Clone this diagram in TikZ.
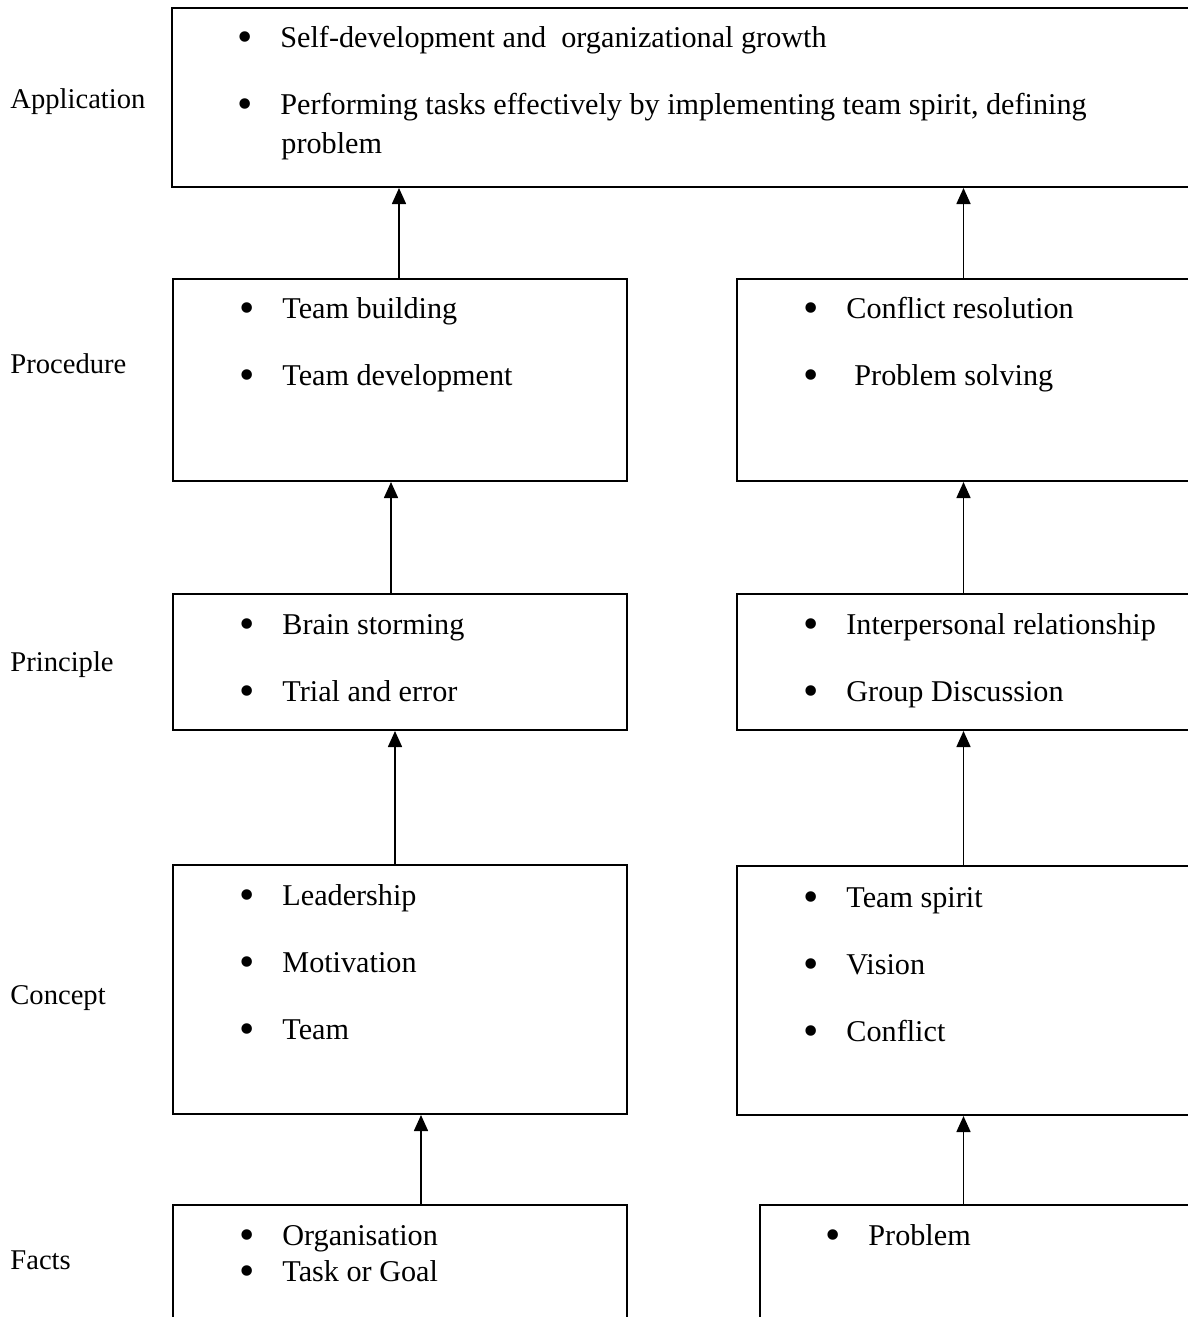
\documentclass[tikz,border=0pt]{standalone}
\usepackage{fontspec}
\setmainfont{Liberation Serif}
\usetikzlibrary{arrows.meta}
\usetikzlibrary{fit}

\newcommand{\bul}[1]{\makebox[21.5pt][l]{\smash{\raisebox{-2.3pt}{\scalebox{1.45}{\textbullet}}}}#1}

\begin{document}
\begin{tikzpicture} [x=.5pt, y=-.5pt,
  font=\fontsize{14.3}{17}\selectfont,
  box/.style={draw=black, line width=1pt, inner sep=0pt},
  arr/.style={black, line width=.8pt, ->, >={Triangle[width=7pt,length=8pt]}},
  item/.style={anchor=base west, inner sep=0pt, text height=10.5pt, text depth=3.2pt,
    font=\fontsize{15.1}{18}\selectfont},
  lbl/.style={anchor=base west, inner sep=0pt}]
\useasboundingbox (0,0) rectangle (1188,1317);
\clip (0,0) rectangle (1188,1317);

% level labels
\node[lbl] (lapp) at (10,108) {Application};
\node[lbl] (lpro) at (10,373) {Procedure};
\node[lbl] (lpri) at (10,671) {Principle};
\node[lbl] (lcon) at (10,1004) {Concept};
\node[lbl] (lfac) at (10,1269) {Facts};

% boxes
\node[box, fit={(172,8) (1195,187)}] (app) {};
\node[box, fit={(173,279) (627,481)}] (pro1) {};
\node[box, fit={(737,279) (1190,481)}] (pro2) {};
\node[box, fit={(173,594) (627,730)}] (pri1) {};
\node[box, fit={(737,594) (1190,730)}] (pri2) {};
\node[box, fit={(173,865) (627,1114)}] (con1) {};
\node[box, fit={(737,866) (1190,1115)}] (con2) {};
\node[box, fit={(173,1205) (627,1330)}] (fac1) {};
\node[box, fit={(760,1205) (1190,1330)}] (fac2) {};

% items
\node[item] (app-a) at (237,47) {\bul{Self-development and \ organizational growth}};
\node[item] (app-b) at (237,114) {\bul{Performing tasks effectively by implementing team spirit, defining}};
\node[item] (app-c) at (281,153) {problem};

\node[item] (pro1-a) at (239,318) {\bul{Team building}};
\node[item] (pro1-b) at (239,385) {\bul{Team development}};
\node[item] (pro2-a) at (803,318) {\bul{Conflict resolution}};
\node[item] (pro2-b) at (803,385) {\bul{\hspace{4pt}Problem solving}};

\node[item] (pri1-a) at (239,634) {\bul{Brain storming}};
\node[item] (pri1-b) at (239,701) {\bul{Trial and error}};
\node[item] (pri2-a) at (803,634) {\bul{Interpersonal relationship}};
\node[item] (pri2-b) at (803,701) {\bul{Group Discussion}};

\node[item] (con1-a) at (239,905) {\bul{Leadership}};
\node[item] (con1-b) at (239,972) {\bul{Motivation}};
\node[item] (con1-c) at (239,1039) {\bul{Team}};
\node[item] (con2-a) at (803,907) {\bul{Team spirit}};
\node[item] (con2-b) at (803,974) {\bul{Vision}};
\node[item] (con2-c) at (803,1041) {\bul{Conflict}};

\node[item] (fac1-a) at (239,1245) {\bul{Organisation}};
\node[item] (fac1-b) at (239,1281) {\bul{Task or Goal}};
\node[item] (fac2-a) at (825,1245) {\bul{Problem}};

% arrows, left column
\draw[arr] ([xshift=-.5pt]pro1.north) coordinate (s1) -- (s1 |- app.south);
\draw[arr] ([xshift=-4.5pt]pri1.north) coordinate (s2) -- (s2 |- pro1.south);
\draw[arr] ([xshift=-2.5pt]con1.north) coordinate (s3) -- (s3 |- pri1.south);
\draw[arr] ([xshift=10.5pt]fac1.north) coordinate (s4) -- (s4 |- con1.south);
% arrows, right column
\draw[arr] (pro2.north) coordinate (t1) -- (t1 |- app.south);
\draw[arr] (pri2.north) coordinate (t2) -- (t2 |- pro2.south);
\draw[arr] (con2.north) coordinate (t3) -- (t3 |- pri2.south);
\draw[arr] (t3 |- fac2.north) coordinate (t4) -- (t4 |- con2.south);
\end{tikzpicture}
\end{document}
